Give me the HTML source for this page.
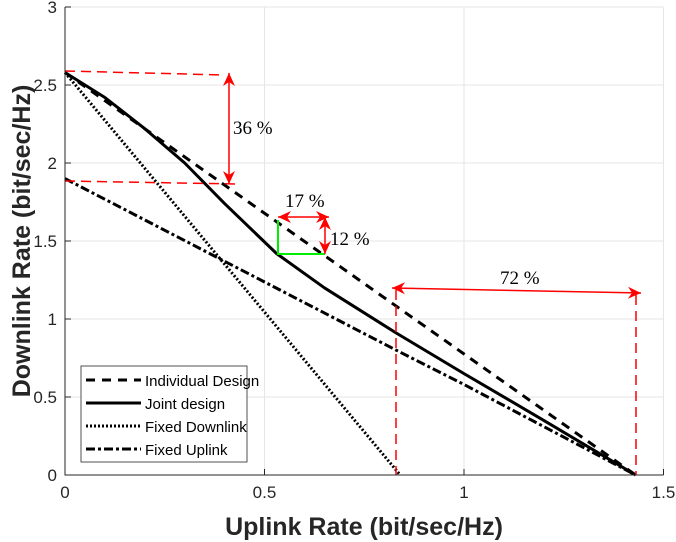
<!DOCTYPE html>
<html><head><meta charset="utf-8"><style>
body{margin:0;background:#fff;}
svg{display:block;font-family:"Liberation Sans",sans-serif;}
</style></head><body>
<svg id="chart" width="676" height="542" viewBox="0 0 676 542">
<g id="grid"></g>
<g id="series"></g>
<g id="annot"></g>
<g id="axes"></g>
<text x="364" y="535" text-anchor="middle" font-size="25" font-weight="bold" fill="#262626">Uplink Rate (bit/sec/Hz)</text>
<text transform="translate(30,241) rotate(-90)" text-anchor="middle" font-size="25" font-weight="bold" fill="#262626">Downlink Rate (bit/sec/Hz)</text>
<g>
<rect x="81" y="366" width="166" height="96" fill="#fff" stroke="#262626" stroke-width="0.8"/>
<line x1="86" y1="380" x2="141" y2="380" stroke="#000" stroke-width="3" stroke-dasharray="9,7"/>
<text x="145" y="386" font-size="15">Individual Design</text>
<line x1="86" y1="403" x2="141" y2="403" stroke="#000" stroke-width="3"/>
<text x="145" y="409" font-size="15">Joint design</text>
<line x1="86" y1="426" x2="141" y2="426" stroke="#000" stroke-width="3" stroke-dasharray="2,2"/>
<text x="145" y="432" font-size="15">Fixed Downlink</text>
<line x1="86" y1="449" x2="141" y2="449" stroke="#000" stroke-width="3" stroke-dasharray="9,3,3,3"/>
<text x="145" y="455" font-size="15">Fixed Uplink</text>
</g>
</svg>
<script>
const xTicks=[0,0.5,1,1.5];
const xTickLabels=["0","0.5","1","1.5"];
const yTicks=[0,0.5,1,1.5,2,2.5,3];
const yTickLabels=["0","0.5","1","1.5","2","2.5","3"];
const indivX=[0,1.43];
const indivY=[2.58,0];
const jointX=[0,0.1,0.2,0.3,0.4,0.53,0.65,0.83,1.0,1.2,1.43];
const jointY=[2.58,2.42,2.22,2.0,1.74,1.42,1.2,0.91,0.65,0.35,0];
const fdlX=[0,0.84];
const fdlY=[2.58,0];
const fulX=[0,0.83,1.0,1.2,1.43];
const fulY=[1.9,0.8,0.58,0.31,0];
const X0=65,X1=663.5,Y0=475,Y1=7;
const sx=v=>X0+(v-0)/1.5*(X1-X0);
const sy=v=>Y0-(v/3)*(Y0-Y1);
const NS="http://www.w3.org/2000/svg";
function mk(tag,attrs,parent){const e=document.createElementNS(NS,tag);for(const k in attrs)e.setAttribute(k,attrs[k]);parent.appendChild(e);return e;}
const grid=document.getElementById('grid'),axes=document.getElementById('axes'),ser=document.getElementById('series'),an=document.getElementById('annot');
mk('rect',{x:X0,y:Y1,width:X1-X0,height:Y0-Y1,fill:'#fff'},grid);
xTicks.forEach((t,i)=>{
 const l=mk('line',{x1:sx(t),x2:sx(t),y1:Y1,y2:Y0,stroke:'#e6e6e6'},grid);
 
 
 const k=mk('line',{x1:sx(t),x2:sx(t),y1:Y0,y2:Y0-6,stroke:'#262626'},axes);
 
 
 const tx=mk('text',{x:sx(t),y:Y0+23,'text-anchor':'middle','font-size':'17',fill:'#262626'},axes);
 tx.textContent=xTickLabels[i];
 
 
});
yTicks.forEach((t,i)=>{
 const l=mk('line',{x1:X0,x2:X1,y1:sy(t),y2:sy(t),stroke:'#e6e6e6'},grid);
 
 
 const k=mk('line',{x1:X0,x2:X0+6,y1:sy(t),y2:sy(t),stroke:'#262626'},axes);
 
 
 const tx=mk('text',{x:X0-8,y:sy(t)+6,'text-anchor':'end','font-size':'17',fill:'#262626'},axes);
 tx.textContent=yTickLabels[i];
 
 
});
const ax=mk('path',{d:`M${X0},${Y1}V${Y0}H${X1}`,fill:'none',stroke:'#262626'},axes);


function line(xs,ys,dash,name){
 const d=xs.map((x,i)=>(i?'L':'M')+sx(x).toFixed(1)+','+sy(ys[i]).toFixed(1)).join('');
 const p=mk('path',{d:d,fill:'none',stroke:'#000','stroke-width':3,'stroke-dasharray':dash,'stroke-linejoin':'round'},ser);
 
 
}
line(fdlX,fdlY,'2,2','fixed-downlink-line');
line(fulX,fulY,'9,3,3,3','fixed-uplink-line');
line(jointX,jointY,'none','joint-design-line');
line(indivX,indivY,'9,7','individual-design-line');
const R='#ff0000';
function dl(x1,y1,x2,y2,name){const e=mk('line',{x1,y1,x2,y2,stroke:R,'stroke-width':1.5,'stroke-dasharray':'10,6'},an);}
function arrow(x1,y1,x2,y2,name){
 const g=mk('g',{},an);
 
 
 mk('line',{x1,y1,x2,y2,stroke:R,'stroke-width':1.5},g);
 const head=(xa,ya,xb,yb)=>{const a=Math.atan2(yb-ya,xb-xa),L=13,W=6;
  const bx=xb-L*Math.cos(a),by=yb-L*Math.sin(a);
  mk('path',{d:`M${xb},${yb}L${bx+W*Math.sin(a)},${by-W*Math.cos(a)}L${bx+4*Math.cos(a)},${by+4*Math.sin(a)}L${bx-W*Math.sin(a)},${by+W*Math.cos(a)}Z`,fill:R},g);};
 head(x1,y1,x2,y2);head(x2,y2,x1,y1);
}
function txt(x,y,s,name){const t=mk('text',{x,y,'font-size':'19','font-family':'"Liberation Serif",serif'},an);t.textContent=s;}
dl(65,71,225,75,'ref-line-top');
dl(65,181,237,184,'ref-line-bottom');
arrow(229,73,229,184,'arrow-36');
txt(233,134,'36 %','label-36');
const g1=mk('path',{d:'M278,220V254H325',fill:'none',stroke:'#00ee00','stroke-width':2},an);


arrow(278,217,329,217,'arrow-17');
arrow(325,217,325,254,'arrow-12');
txt(285,207,'17 %','label-17');
txt(330,245,'12 %','label-12');
dl(396,290,396,475,'ref-line-left-vertical');
dl(636,295,636,475,'ref-line-right-vertical');
arrow(392,288,641,293,'arrow-72');
txt(500,284,'72 %','label-72');
</script>
</body></html>
